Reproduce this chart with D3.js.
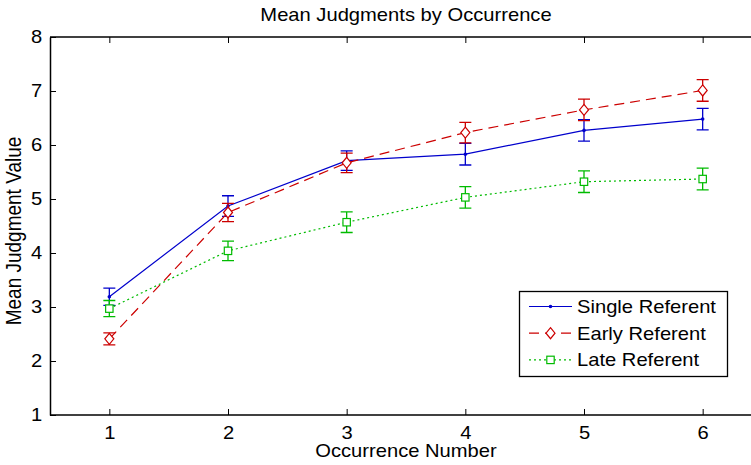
<!DOCTYPE html>
<html><head><meta charset="utf-8">
<script src="https://cdn.jsdelivr.net/npm/d3@7/dist/d3.min.js"></script>
<style>body{margin:0;background:#fff}svg{display:block}text{font-family:"Liberation Sans",Arial,sans-serif}</style>
</head><body><svg id="c" width="751" height="465"></svg>
<script>
const occurrences = [1,2,3,4,5,6];
const xTicks = [1,2,3,4,5,6];
const yTicks = [1,2,3,4,5,6,7,8];
const singleMean = [3.19,4.87,5.71,5.83,6.27,6.48];
const singleErr  = [0.16,0.19,0.18,0.20,0.20,0.20];
const earlyMean  = [2.41,4.75,5.67,6.23,6.65,7.01];
const earlyErr   = [0.11,0.17,0.18,0.19,0.20,0.20];
const lateMean   = [2.97,4.04,4.57,5.03,5.32,5.37];
const lateErr    = [0.15,0.18,0.19,0.20,0.20,0.20];
const seriesNames = ["Single Referent","Early Referent","Late Referent"];

const svg = d3.select("#c");
const W=751,H=465;
const SX = 1.12; // horizontal text stretch of the reference
const FS = 18;
const x = d3.scaleLinear().domain([0.5,6.5]).range([50,762]);
const y = d3.scaleLinear().domain([1,8]).range([415,37]);

const series = [
  {name:seriesNames[0], mean:singleMean, err:singleErr, color:"#0000cc", dash:null, marker:"dot"},
  {name:seriesNames[1], mean:earlyMean, err:earlyErr, color:"#cc0000", dash:"10,6", marker:"diamond"},
  {name:seriesNames[2], mean:lateMean, err:lateErr, color:"#00bb00", dash:"2,3", marker:"square"}
];

// axes
const gx = svg.append("g").attr("transform",`translate(0,${y(1)})`)
  .call(d3.axisBottom(x).tickValues(xTicks).tickSizeInner(-6).tickSizeOuter(0).tickPadding(11).tickFormat(d3.format("d")));
const gxt = svg.append("g").attr("transform",`translate(0,${y(8)})`)
  .call(d3.axisTop(x).tickValues(xTicks).tickSizeInner(-6).tickSizeOuter(0).tickFormat(""));
const gy = svg.append("g").attr("transform",`translate(${x(0.5)},0)`)
  .call(d3.axisLeft(y).tickValues(yTicks).tickSizeInner(-6).tickSizeOuter(0).tickPadding(7).tickFormat(d3.format("d")));
[gx,gxt,gy].forEach(g=>{
  g.selectAll(".domain").attr("stroke","#000").attr("stroke-width",1.5);
  g.selectAll(".tick line").attr("stroke","#000");
  g.selectAll(".tick text").attr("font-size",FS).attr("fill","#000")
    .attr("font-family","Liberation Sans, Arial, sans-serif").attr("transform",`scale(${SX},1)`);
});
gx.selectAll(".domain").attr("d",`M${x(0.5)},0H${W}`);
gxt.selectAll(".domain").attr("d",`M${x(0.5)},0H${W}`);

function drawMarkers(g,s,pts){
  pts.forEach(([px,py])=>{
    if(s.marker==="dot") g.append("circle").attr("cx",px).attr("cy",py).attr("r",1.8).attr("fill",s.color);
    else if(s.marker==="diamond") g.append("path").attr("d",`M${px},${py-5.5}L${px+4.5},${py}L${px},${py+5.5}L${px-4.5},${py}Z`)
      .attr("fill","#fff").attr("stroke",s.color).attr("stroke-width",1.2);
    else g.append("rect").attr("x",px-3.7).attr("y",py-3.7).attr("width",7.4).attr("height",7.4)
      .attr("fill","#fff").attr("stroke",s.color).attr("stroke-width",1.2);
  });
}

const plot = svg.append("g");
series.forEach(s=>{
  const g = plot.append("g");
  const line = d3.line().x((d,i)=>x(occurrences[i])).y(d=>y(d));
  g.append("path").attr("d",line(s.mean)).attr("fill","none").attr("stroke",s.color)
    .attr("stroke-width",1.2).attr("stroke-dasharray",s.dash);
  s.mean.forEach((m,i)=>{
    const cx=x(occurrences[i]), t=y(m+s.err[i]), b=y(m-s.err[i]);
    g.append("path").attr("d",`M${cx},${t}V${b}M${cx-6},${t}H${cx+6}M${cx-6},${b}H${cx+6}`)
      .attr("stroke",s.color).attr("stroke-width",1.3).attr("fill","none");
  });
  drawMarkers(g,s,s.mean.map((m,i)=>[x(occurrences[i]),y(m)]));
});

// legend
const lg = svg.append("g");
lg.append("rect").attr("x",519.5).attr("y",291.5).attr("width",208).attr("height",85)
  .attr("fill","#fff").attr("stroke","#000").attr("stroke-width",1.3);
series.forEach((s,i)=>{
  const ly = 306.5 + i*26.7;
  lg.append("line").attr("x1",529).attr("x2",572).attr("y1",ly).attr("y2",ly)
    .attr("stroke",s.color).attr("stroke-width",1.2).attr("stroke-dasharray",s.dash);
  drawMarkers(lg,s,[[550.5,ly]]);
  lg.append("text").attr("transform",`translate(577,${ly+6.5}) scale(${SX},1)`).attr("font-size",FS).text(s.name);
});

// titles
svg.append("text").attr("transform",`translate(406,21) scale(${SX},1)`).attr("text-anchor","middle").attr("font-size",FS).text("Mean Judgments by Occurrence");
svg.append("text").attr("transform",`translate(406,457) scale(${SX},1)`).attr("text-anchor","middle").attr("font-size",FS).text("Occurrence Number");
svg.append("text").attr("transform",`translate(21,231) scale(${SX},1) rotate(-90)`).attr("text-anchor","middle").attr("font-size",19).text("Mean Judgment Value");
</script></body></html>
